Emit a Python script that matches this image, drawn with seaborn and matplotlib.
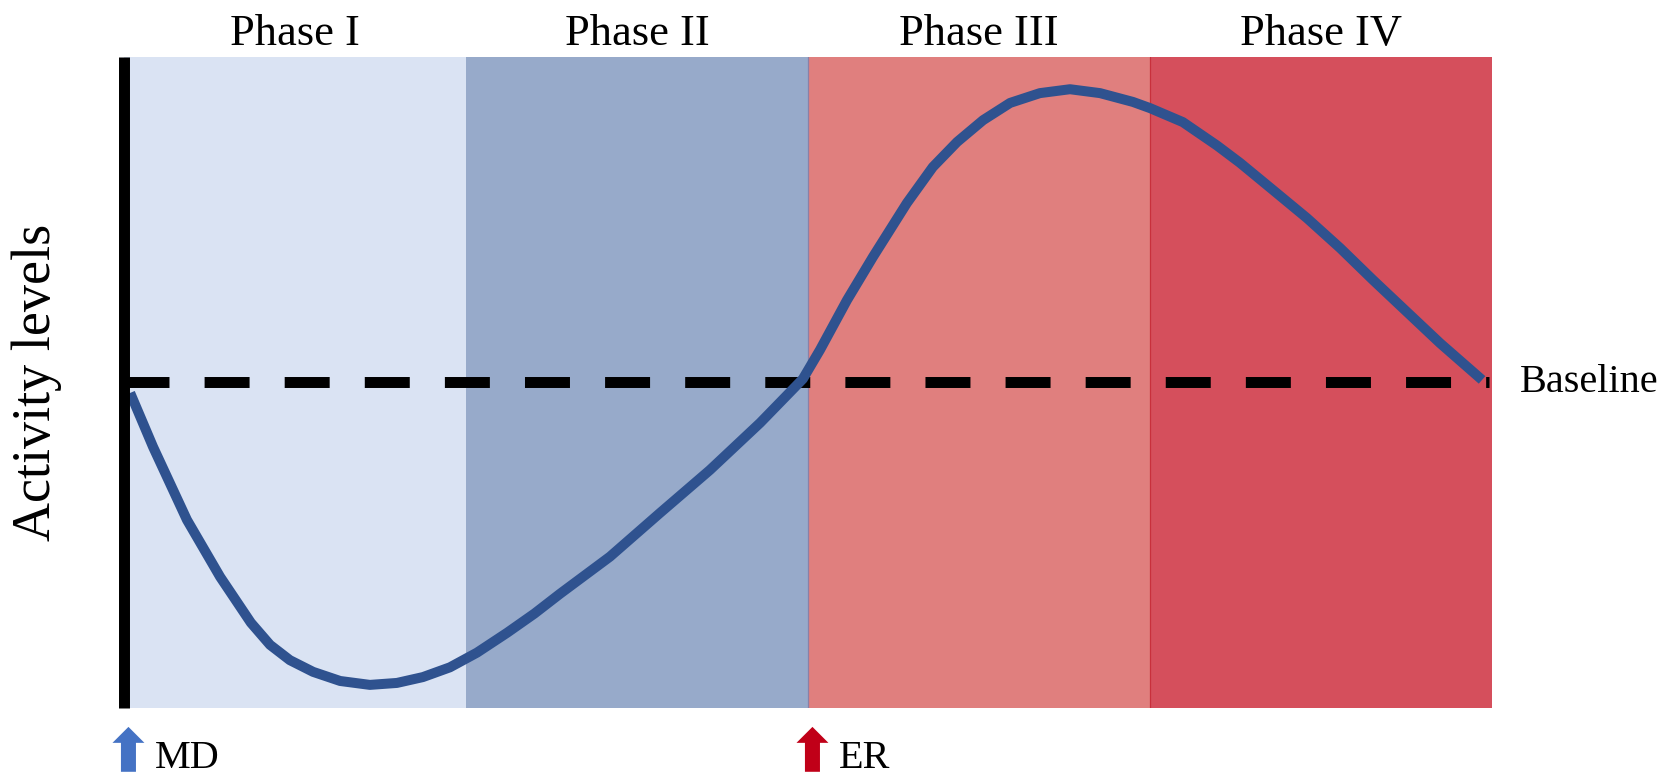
import numpy as np
import pandas as pd
import matplotlib
matplotlib.use("Agg")
import matplotlib.pyplot as plt
import seaborn as sns

sns.set_style("white")
plt.rcParams['font.family'] = ['Liberation Serif', 'DejaVu Serif']
plt.rcParams['text.color'] = 'black'

# Phases (x runs 0..4, one unit per phase)
phases = ['Phase I', 'Phase II', 'Phase III', 'Phase IV']
phase_start = [0, 1, 2, 3]
phase_end = [1, 2, 3, 4]
phase_colors = ['#DAE3F3', '#97AACA', '#E07F7E', '#D54F5C']

# Activity curve (baseline = 0)
time = [0.018, 0.085, 0.184, 0.281, 0.371, 0.427, 0.485, 0.553, 0.632, 0.719,
        0.798, 0.874, 0.953, 1.032, 1.120, 1.200, 1.275, 1.421, 1.567, 1.713, 1.860,
        1.985, 2.035, 2.114, 2.190, 2.289, 2.365, 2.436, 2.512, 2.591, 2.678,
        2.766, 2.854, 2.950, 3.000, 3.096, 3.196, 3.263, 3.360, 3.459, 3.556,
        3.652, 3.751, 3.848, 3.971]
activity = [-0.032, -0.198, -0.422, -0.597, -0.738, -0.806, -0.853, -0.889, -0.917, -0.929,
            -0.923, -0.905, -0.875, -0.830, -0.769, -0.710, -0.649, -0.535, -0.401, -0.269, -0.124,
            0.011, 0.100, 0.253, 0.386, 0.551, 0.662, 0.739, 0.806, 0.859, 0.889,
            0.901, 0.889, 0.862, 0.843, 0.800, 0.728, 0.675, 0.591, 0.505, 0.413,
            0.315, 0.217, 0.121, 0.008]

# Event markers
events = ['MD', 'ER']
event_x = [0.0, 2.0]
event_colors = ['#4472C4', '#C00018']

df = pd.DataFrame({'time': time, 'activity': activity})

fig = plt.figure(figsize=(16.64, 7.74), dpi=100)
ax = fig.add_axes([124 / 1664, 66 / 774, 1368 / 1664, 651 / 774])

for name, x0, x1, c in zip(phases, phase_start, phase_end, phase_colors):
    ax.axvspan(x0, x1, color=c, lw=0, zorder=0)
    ax.text((x0 + x1) / 2, 1.018, name, transform=ax.get_xaxis_transform(),
            ha='center', va='baseline', fontsize=32)

ax.axvline(2, color='#8A80A6', lw=0.9, zorder=0.5)
ax.axvline(3, color='#C8303C', lw=0.9, zorder=0.5)

ax.hlines(0, 0, 3.99, colors='black', lw=7.9, linestyles=(0, (4.1, 3.2)),
          zorder=2)

sns.lineplot(data=df, x='time', y='activity', ax=ax, color='#2F528F', lw=7.2,
             zorder=3, solid_capstyle='butt', solid_joinstyle='round')

ax.text(4.082, -0.029, 'Baseline', ha='left', va='baseline', fontsize=29)

tr = ax.get_xaxis_transform()
for name, x, c in zip(events, event_x, event_colors):
    ax.annotate('', xy=(x + 0.013, -0.029), xytext=(x + 0.013, -0.098),
                xycoords=tr, textcoords=tr, annotation_clip=False,
                arrowprops=dict(arrowstyle='simple,head_width=1,head_length=0.5,tail_width=0.47',
                                mutation_scale=23, color=c, shrinkA=0, shrinkB=0, lw=0))
    ax.text(x + 0.09, -0.092, name, transform=tr, ha='left', va='baseline',
            fontsize=29)

fig.text(37 / 1664, 1 - 382 / 774, 'Activity levels', rotation=90,
         ha='center', va='center', fontsize=39)

ax.set_xlim(0, 4)
ax.set_ylim(-1, 1)
ax.set_xticks([])
ax.set_yticks([])
ax.set_xlabel('')
ax.set_ylabel('')
for s in ['top', 'right', 'bottom']:
    ax.spines[s].set_visible(False)
ax.spines['left'].set_color('black')
ax.spines['left'].set_linewidth(7.9)
ax.spines['left'].set_capstyle('butt')
ax.spines['left'].set_zorder(4)

fig.savefig('out.png', dpi=100)
